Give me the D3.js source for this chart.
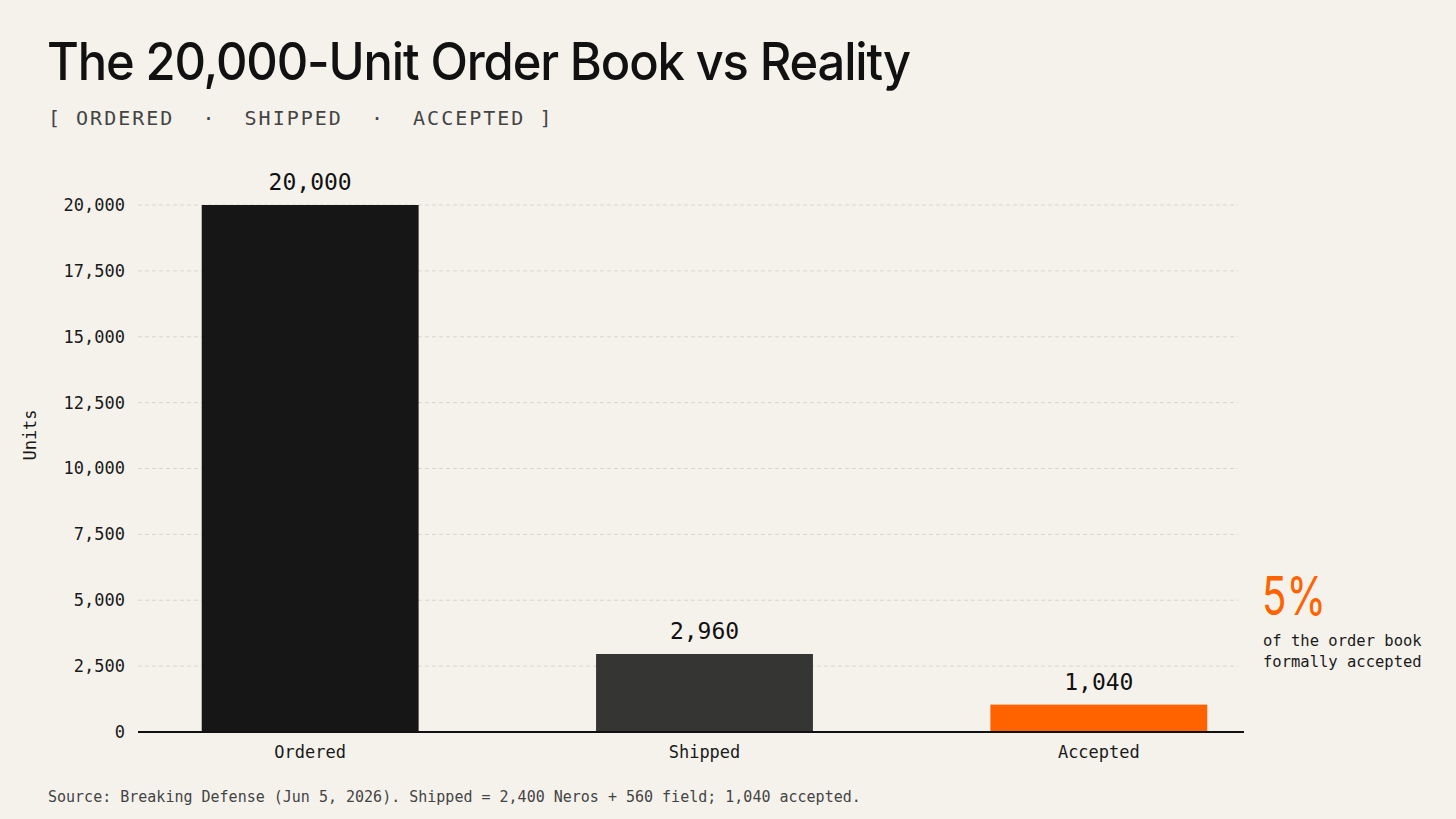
<!DOCTYPE html>
<html>
<head>
<meta charset="utf-8">
<script src="https://cdn.jsdelivr.net/npm/d3@7"></script>
<style>
  body { margin: 0; background: #f5f2ec; }
  svg { display: block; }
</style>
</head>
<body>
<div id="chart"></div>
<script>
const width = 1456;
const height = 819;

const categories = ["Ordered", "Shipped", "Accepted"];
const values = [20000, 2960, 1040];
const barColors = ["#161616", "#353533", "#ff6300"];
const yTicks = [0, 2500, 5000, 7500, 10000, 12500, 15000, 17500, 20000];

const mono = "'DejaVu Sans Mono', monospace";
const sans = "Inter, 'Noto Sans', sans-serif";

const svg = d3.select("#chart")
    .append("svg")
    .attr("width", width)
    .attr("height", height);

svg.append("rect")
    .attr("width", width)
    .attr("height", height)
    .attr("fill", "#f5f2ec");

// title + subtitle
svg.append("text")
    .attr("x", 47)
    .attr("y", 80)
    .attr("font-family", sans)
    .attr("font-size", 52)
    .attr("font-weight", 500)
    .attr("letter-spacing", -1.2)
    .attr("textLength", 863)
    .attr("lengthAdjust", "spacingAndGlyphs")
    .attr("fill", "#111")
    .text("The 20,000-Unit Order Book vs Reality");

svg.append("text")
    .attr("x", 48)
    .attr("y", 125)
    .attr("font-family", mono)
    .attr("font-size", 20)
    .attr("letter-spacing", 2)
    .attr("fill", "#444")
    .attr("xml:space", "preserve")
    .style("white-space", "pre")
    .text("[ ORDERED  \u00b7  SHIPPED  \u00b7  ACCEPTED ]");

const xScale = d3.scaleBand()
    .domain(categories)
    .range([113, 1296])
    .paddingInner(0.45)
    .paddingOuter(0.225);

const yScale = d3.scaleLinear()
    .domain([0, 20000])
    .range([732, 205]);

// grid
svg.append("g")
    .selectAll("line")
    .data(yTicks.filter(d => d > 0))
    .enter()
    .append("line")
    .attr("x1", 138)
    .attr("x2", 1238)
    .attr("y1", d => yScale(d))
    .attr("y2", d => yScale(d))
    .attr("stroke", "#d9d5ce")
    .attr("stroke-width", 1)
    .attr("stroke-dasharray", "4,3");

// y axis labels
const yAxis = d3.axisLeft(yScale)
    .tickValues(yTicks)
    .tickFormat(d3.format(","))
    .tickSize(0)
    .tickPadding(13);

const yAxisGroup = svg.append("g")
    .attr("transform", "translate(138,0)")
    .call(yAxis);
yAxisGroup.select(".domain").remove();
yAxisGroup.selectAll("text")
    .attr("font-family", mono)
    .attr("font-size", 17)
    .attr("fill", "#1a1a1a");

svg.append("text")
    .attr("transform", "translate(36,435) rotate(-90)")
    .attr("text-anchor", "middle")
    .attr("font-family", mono)
    .attr("font-size", 17)
    .attr("fill", "#1a1a1a")
    .text("Units");

// bars
svg.append("g")
    .selectAll("rect")
    .data(values)
    .enter()
    .append("rect")
    .attr("x", (d, i) => xScale(categories[i]))
    .attr("y", d => yScale(d))
    .attr("width", xScale.bandwidth())
    .attr("height", d => yScale(0) - yScale(d))
    .attr("fill", (d, i) => barColors[i]);

// value labels
svg.append("g")
    .selectAll("text")
    .data(values)
    .enter()
    .append("text")
    .attr("x", (d, i) => xScale(categories[i]) + xScale.bandwidth() / 2)
    .attr("y", d => yScale(d) - 15)
    .attr("text-anchor", "middle")
    .attr("font-family", mono)
    .attr("font-size", 23)
    .attr("fill", "#111")
    .text(d => d3.format(",")(d));

// x axis
const xAxis = d3.axisBottom(xScale).tickSize(0).tickPadding(14);
const xAxisGroup = svg.append("g")
    .attr("transform", "translate(0,732)")
    .call(xAxis);
xAxisGroup.select(".domain").remove();
xAxisGroup.selectAll("text")
    .attr("font-family", mono)
    .attr("font-size", 17)
    .attr("fill", "#1a1a1a");

svg.append("line")
    .attr("x1", 138)
    .attr("x2", 1244)
    .attr("y1", 732)
    .attr("y2", 732)
    .attr("stroke", "#111")
    .attr("stroke-width", 2);

// annotation
svg.append("text")
    .attr("x", 1262)
    .attr("y", 615)
    .attr("font-family", sans)
    .attr("font-size", 54)
    .attr("textLength", 64)
    .attr("lengthAdjust", "spacingAndGlyphs")
    .attr("fill", "#ff6300")
    .text("5%");

svg.append("text")
    .attr("x", 1263)
    .attr("y", 646)
    .attr("font-family", mono)
    .attr("font-size", 15.5)
    .attr("fill", "#1a1a1a")
    .text("of the order book");

svg.append("text")
    .attr("x", 1263)
    .attr("y", 667)
    .attr("font-family", mono)
    .attr("font-size", 15.5)
    .attr("fill", "#1a1a1a")
    .text("formally accepted");

// source
svg.append("text")
    .attr("x", 48)
    .attr("y", 802)
    .attr("font-family", mono)
    .attr("font-size", 15)
    .attr("fill", "#444")
    .text("Source: Breaking Defense (Jun 5, 2026). Shipped = 2,400 Neros + 560 field; 1,040 accepted.");
</script>
</body>
</html>
